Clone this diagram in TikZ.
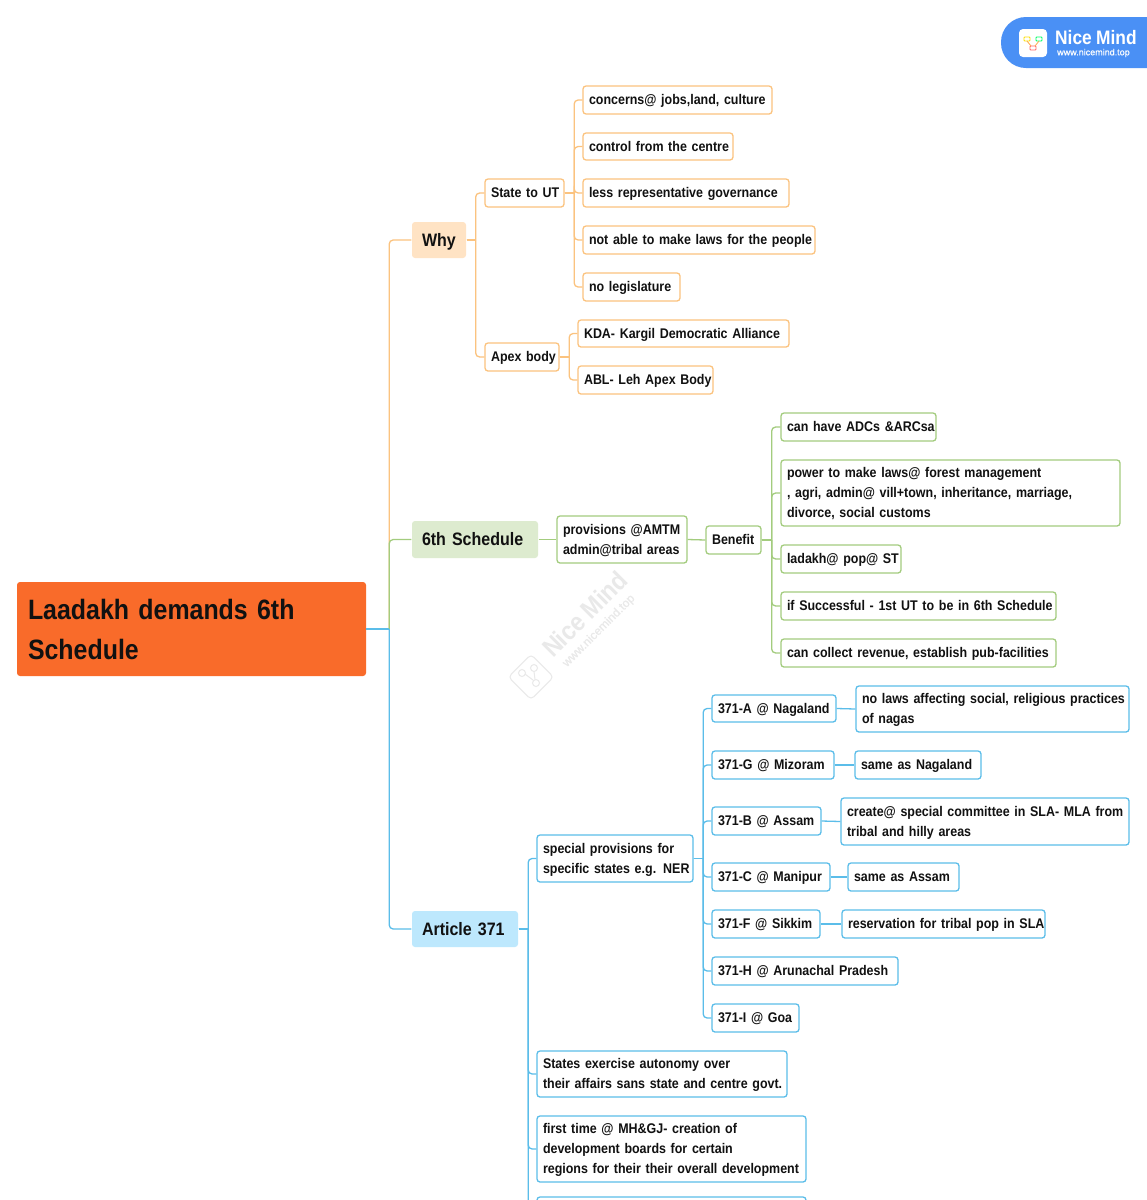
\documentclass[tikz,border=0pt]{standalone}
\usepackage{fontspec}
\usetikzlibrary{calc}
\setmainfont{Liberation Sans}[UprightFont=* Bold,FakeStretch=0.89,WordSpace=0.9]
\newfontfamily\plainf{Liberation Sans}[FakeBold=0.6]
\definecolor{oln}{HTML}{FBC37F}
\definecolor{gln}{HTML}{A3CC7E}
\definecolor{bln}{HTML}{5BBDE9}
\definecolor{ofill}{HTML}{FFE3C4}
\definecolor{gfill}{HTML}{DDEBCF}
\definecolor{bfill}{HTML}{BDE8FD}
\definecolor{rootc}{HTML}{F96B2A}
\definecolor{logob}{HTML}{4A90F5}
\definecolor{wm}{HTML}{E9E9E9}
\definecolor{ink}{HTML}{111111}
\tikzset{
  x=1pt,y=-1pt,
  base/.style={rounded corners=3pt,line width=1.3pt,text=ink,inner ysep=0pt,inner xsep=6pt,align=left,
    font=\fontsize{14}{20}\selectfont},
  obox/.style={base,draw=oln,fill=white},
  gbox/.style={base,draw=gln,fill=white},
  bbox/.style={base,draw=bln,fill=white},
  major/.style={base,inner xsep=10pt,font=\fontsize{18}{22}\selectfont},
  oline/.style={draw=oln,line width=1.3pt},
  gline/.style={draw=gln,line width=1.3pt},
  bline/.style={draw=bln,line width=1.3pt},
}
% one text line with fixed height above and depth below the baseline
\newcommand{\Ln}[2][13]{\mbox{\rule[-2pt]{0pt}{#1pt}\smash{#2}}}
% #1 style, #2 name, #3 left, #4 right, #5 top, #6 bottom, #7 text
\newcommand{\bxm}[7]{\node[#1,anchor=center,minimum height={(#6-#5)*1pt},minimum width={(#4-#3)*1pt},text width={(#4-#3-12)*1pt}] (#2) at ({(#3+#4)/2},{(#5+#6)/2}) {#7};}
\newcommand{\bx}[7]{\bxm{#1}{#2}{#3}{#4}{#5}{#6}{\Ln{#7}}}
\newcommand{\mj}[7]{\node[#1,anchor=center,minimum height={(#6-#5)*1pt},minimum width={(#4-#3)*1pt},text width={(#4-#3-20)*1pt}] (#2) at ({(#3+#4)/2},{(#5+#6)/2}) {\Ln[16]{#7}};}
% #1 style, #2 from, #3 trunk offset, #4 to
\newcommand{\cn}[4]{\draw[#1] (#2.east) -- ++(#3,0) coordinate (tr); \draw[#1,rounded corners=4pt] (tr) |- (#4.west);}
\begin{document}
\begin{tikzpicture}
\useasboundingbox (0,0) rectangle (1147,1200);
\fill[white] (0,0) rectangle (1147,1200);
\begin{scope}
\clip (0,0) rectangle (1147,1200);
% watermark
\node[text=wm,rotate=45,font=\fontsize{26}{26}\selectfont] (wmtext) at (585,614) {Nice Mind};
\node[text=wm,rotate=45,font=\plainf\fontsize{12}{12}\selectfont] (wmurl) at (599,631) {www.nicemind.top};
\node[draw=wm,line width=1pt,rounded corners=4pt,rotate=45,minimum width=32pt,minimum height=32pt] (wmicon) at (531,677) {};
\begin{scope}[shift={(531,677)},draw=wm,line width=1pt]
\draw (-9,-4) circle (3.5) (3,-9) circle (3.5) (5,6) circle (3.5);
\draw (-6,-3) -- (2,3) (3,-5.5) -- (4,2.5);
\end{scope}
% root
\node[fill=rootc,rounded corners=3pt,text=ink,inner sep=0pt,anchor=center,minimum width=349pt,minimum height=94pt,text width=327pt,align=left,
  font=\fontsize{28}{40}\selectfont] (root) at (191.5,629) {\Ln[24]{Laadakh demands 6th}\\\Ln[24]{Schedule}};
% main branches
\mj{major,fill=ofill}{why}{412}{466}{222}{258}{Why}
\mj{major,fill=gfill}{six}{412}{538}{521}{558}{6th Schedule}
\mj{major,fill=bfill}{art}{412}{518}{911}{947}{Article 371}
% orange
\bx{obox}{state}{485}{564}{179}{207}{State to UT}
\bx{obox}{apex}{485}{559}{343}{371}{Apex body}
\bx{obox}{o1}{583}{772}{86}{114}{concerns@ jobs,land, culture}
\bx{obox}{o2}{583}{733}{133}{160}{control from the centre}
\bx{obox}{o3}{583}{789}{179}{207}{less representative governance}
\bx{obox}{o4}{583}{815}{226}{254}{not able to make laws for the people}
\bx{obox}{o5}{583}{680}{273}{301}{no legislature}
\bx{obox}{kda}{578}{789}{320}{347}{KDA- Kargil Democratic Alliance}
\bx{obox}{abl}{578}{713}{366}{394}{ABL- Leh Apex Body}
% green
\bxm{gbox}{prov}{557}{687}{516}{563}{\Ln{provisions @AMTM}\\\Ln{admin@tribal areas}}
\bx{gbox}{ben}{706}{761}{526}{554}{Benefit}
\bx{gbox}{g1}{781}{936}{413}{441}{can have ADCs \&ARCsa}
\bxm{gbox}{g2}{781}{1120}{460}{526}{\Ln{power to make laws@ forest management}\\\Ln{, agri, admin@ vill+town, inheritance, marriage,}\\\Ln{divorce, social customs}}
\bx{gbox}{g3}{781}{901}{545}{573}{ladakh@ pop@ ST}
\bx{gbox}{g4}{781}{1056}{592}{620}{if Successful - 1st UT to be in 6th Schedule}
\bx{gbox}{g5}{781}{1056}{639}{667}{can collect revenue, establish pub-facilities}
% blue
\bxm{bbox}{spec}{537}{693}{835}{882}{\Ln{special provisions for}\\\Ln{specific states e.g. NER}}
\bx{bbox}{a}{712}{836}{695}{722}{371-A @ Nagaland}
\bxm{bbox}{an}{856}{1129}{686}{732}{\Ln{no laws affecting social, religious practices}\\\Ln{of nagas}}
\bx{bbox}{g}{712}{834}{751}{779}{371-G @ Mizoram}
\bx{bbox}{gn}{855}{981}{751}{779}{same as Nagaland}
\bx{bbox}{b}{712}{821}{807}{835}{371-B @ Assam}
\bxm{bbox}{bn}{841}{1129}{798}{845}{\Ln{create@ special committee in SLA- MLA from}\\\Ln{tribal and hilly areas}}
\bx{bbox}{c}{712}{830}{863}{891}{371-C @ Manipur}
\bx{bbox}{cn}{848}{959}{863}{891}{same as Assam}
\bx{bbox}{f}{712}{820}{910}{938}{371-F @ Sikkim}
\bx{bbox}{fn}{842}{1045}{910}{938}{reservation for tribal pop in SLA}
\bx{bbox}{h}{712}{898}{957}{985}{371-H @ Arunachal Pradesh}
\bx{bbox}{i}{712}{799}{1004}{1032}{371-I @ Goa}
\bxm{bbox}{st}{537}{787}{1051}{1097}{\Ln{States exercise autonomy over}\\\Ln{their affairs sans state and centre govt.}}
\bxm{bbox}{ft}{537}{806}{1116}{1182}{\Ln{first time @ MH\&GJ- creation of}\\\Ln{development boards for certain}\\\Ln{regions for their their overall development}}
\bxm{bbox}{last}{537}{806}{1197}{1263}{}
% connectors
\cn{oline}{root}{23}{why}
\cn{oline}{why}{9}{state}
\cn{oline}{why}{9}{apex}
\cn{oline}{state}{9.5}{o1}
\cn{oline}{state}{9.5}{o2}
\cn{oline}{state}{9.5}{o3}
\cn{oline}{state}{9.5}{o4}
\cn{oline}{state}{9.5}{o5}
\cn{oline}{apex}{9.5}{kda}
\cn{oline}{apex}{9.5}{abl}
\cn{gline}{root}{23}{six}
\draw[gline] (six.east) -- (prov.west);
\draw[gline] (prov.east) -- (ben.west);
\cn{gline}{ben}{10}{g1}
\cn{gline}{ben}{10}{g2}
\cn{gline}{ben}{10}{g3}
\cn{gline}{ben}{10}{g4}
\cn{gline}{ben}{10}{g5}
\cn{bline}{root}{23}{art}
\cn{bline}{art}{9.5}{spec}
\cn{bline}{art}{9.5}{st}
\cn{bline}{art}{9.5}{ft}
\cn{bline}{art}{9.5}{last}
\cn{bline}{spec}{9.5}{a}
\cn{bline}{spec}{9.5}{g}
\cn{bline}{spec}{9.5}{b}
\cn{bline}{spec}{9.5}{c}
\cn{bline}{spec}{9.5}{f}
\cn{bline}{spec}{9.5}{h}
\cn{bline}{spec}{9.5}{i}
\draw[bline] (a.east) -- (an.west);
\draw[bline] (g.east) -- (gn.west);
\draw[bline] (b.east) -- (bn.west);
\draw[bline] (c.east) -- (cn.west);
\draw[bline] (f.east) -- (fn.west);
% logo
\fill[logob,rounded corners=25pt] (1001,17) rectangle (1190,68);
\fill[white,rounded corners=4pt] (1019,29) rectangle (1047,57);
\draw[line width=.8pt,draw=yellow!80!orange,rounded corners=.8pt] (1024,37) rectangle (1030,41);
\draw[line width=.8pt,draw=green!60!cyan,rounded corners=.8pt] (1036,37) rectangle (1042,41);
\draw[line width=.8pt,draw=red!60!white,rounded corners=.8pt] (1030,46) rectangle (1036,50);
\draw[line width=.8pt,draw=orange!70!white] (1027,41) -- (1031,46) (1039,41) -- (1035,46);
\node[text=white,anchor=west,inner sep=0pt,font=\fontsize{19.5}{20}\selectfont] (logot) at (1055,38) {Nice Mind};
\node[text=white,anchor=west,inner sep=0pt,font=\plainf\fontsize{9}{9}\selectfont] (logou) at (1057,53) {www.nicemind.top};
\end{scope}
\end{tikzpicture}
\end{document}
